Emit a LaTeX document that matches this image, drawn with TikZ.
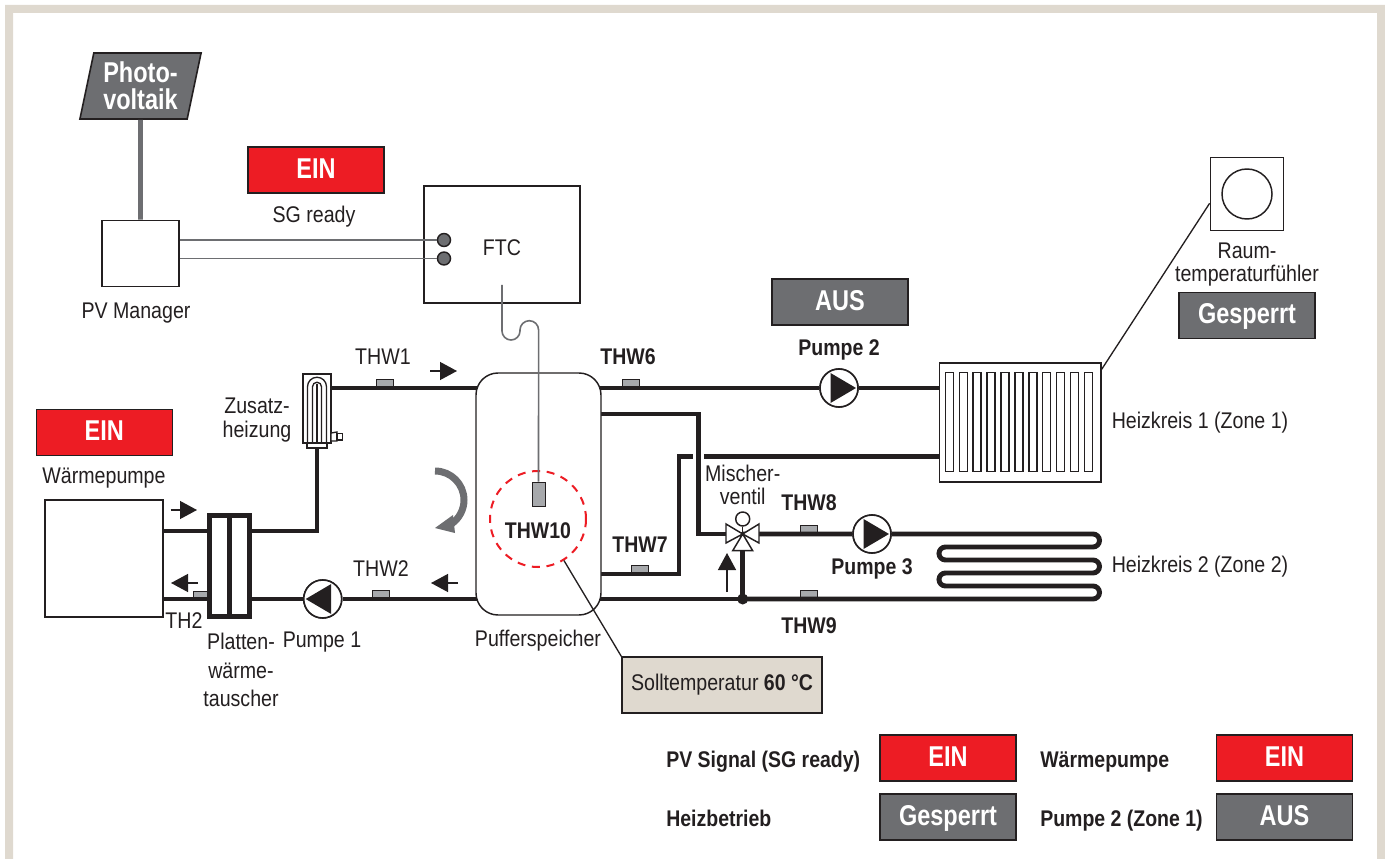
\documentclass[tikz,border=0pt]{standalone}
\usepackage{fontspec}
\setmainfont[FakeStretch=0.865]{Liberation Sans}
\newfontfamily\boldfam[FakeStretch=0.86]{Liberation Sans}
\newfontfamily\statusfam[FakeStretch=0.82]{Liberation Sans}
\usetikzlibrary{arrows.meta, calc, shapes.geometric}
\definecolor{ink}{HTML}{231F20}
\definecolor{midgray}{HTML}{6D6E71}
\definecolor{sensgray}{HTML}{A7A9AC}
\definecolor{alarmred}{HTML}{ED1C24}
\definecolor{sand}{HTML}{DFD9CF}
\newcommand{\lblfont}{\fontsize{17}{17.25}\selectfont}
\newcommand{\lblbold}{\boldfam\bfseries\fontsize{17}{17.25}\selectfont}
\newcommand{\statfont}{\statusfam\bfseries\fontsize{21.5}{24}\selectfont}

\begin{document}
\begin{tikzpicture}[
    x=0.75pt, y=-0.75pt,
    lbl/.style={font=\lblfont, text=ink, inner sep=0pt, align=center},
    lblb/.style={font=\lblbold, text=ink, inner sep=0pt, align=center},
    status/.style={draw=ink, line width=1.2pt, minimum width=102pt, minimum height=34.5pt,
                   inner sep=0pt, text=white, font=\statfont, text height=15.1pt, text depth=3pt},
    statuson/.style={status, fill=alarmred},
    statusoff/.style={status, fill=midgray},
    box/.style={draw=ink, line width=1.1pt, fill=white, inner sep=0pt},
    pipe/.style={draw=ink, line width=3.7pt},
    sgline/.style={draw=midgray, line width=1.3pt},
    thin/.style={draw=ink, line width=1pt},
    sensor/.style={draw=ink, fill=sensgray, line width=0.7pt, minimum width=12.75pt,
                   minimum height=6.75pt, inner sep=0pt},
    pump/.style={draw=ink, line width=1.2pt, fill=white, circle, minimum size=28.5pt, inner sep=0pt},
    flow/.style={draw=ink, line width=1pt, -{Triangle[length=12.75pt, width=13.5pt]}},
    fin/.style={draw=ink, line width=1.1pt},
    valve/.style={draw=ink, fill=white, line width=1.1pt},
]
    \useasboundingbox (0,0) rectangle (1385,859);

    % Page frame.
    \fill[sand] (5,859) -- (5,5) -- (1385,5) -- (1385,859) -- (1377,859) -- (1377,13) -- (13,13) -- (13,859) -- cycle;

    % Sensors on the pipes.
    \foreach \n/\xa/\ya in {thwa/384.5/383.5, thwb/380.5/595, thf/630.5/383.5, thg/640/570,
                            thh/809/530, thi/809/595} {
        \node[sensor] (\n) at (\xa,\ya) {};
    }
    \node[sensor, minimum width=10.5pt] (thtwo) at (200,595.5) {};

    % Upper row.
    \node[trapezium, trapezium left angle=77, trapezium right angle=103, trapezium stretches=true,
          draw=ink, line width=1.2pt, fill=midgray, minimum width=91.5pt, minimum height=49.5pt,
          inner sep=0pt, text=white, align=center, font=\statfont] (pvpanel) at (140.5,86)
        {Photo-\\[-3.75pt]voltaik};
    \node[box, minimum width=58pt, minimum height=49.5pt] (pvmanager) at (140.5,253.3) {};
    \node[lbl] (pvlabel) at (136,313) {PV Manager};
    \node[statuson] (sgstatus) at (316,170) {EIN};
    \node[lbl] (sglabel) at (314,217) {SG ready};
    \node[box, minimum width=117pt, minimum height=87.75pt] (ftc) at (502,244.3) {};
    \node[lbl] (ftclabel) at (502,248) {FTC};
    \node[draw=ink, fill=midgray, line width=1.1pt, circle, minimum size=9.75pt, inner sep=0pt] (sga) at (444,240) {};
    \node[draw=ink, fill=midgray, line width=1.1pt, circle, minimum size=9.75pt, inner sep=0pt] (sgb) at (444,258.5) {};
    \draw[draw=midgray, line width=3.4pt] (pvpanel.south) -- (pvmanager.north);
    \draw[sgline] (sga -| pvmanager.east) -- (sga);
    \draw[sgline] (sgb -| pvmanager.east) -- (sgb);

    % Heat pump and plate exchanger.
    \node[statuson] (wpstatus) at (104.3,432.3) {EIN};
    \node[lbl] (wplabel) at (104,478) {Wärmepumpe};
    \node[box, minimum width=88.5pt, minimum height=87.75pt] (wp) at (104,558.5) {};
    \node[draw=ink, line width=3.7pt, fill=white, minimum width=30pt, minimum height=75.75pt, inner sep=0pt]
        (plate) at (229.5,566) {};
    \draw[pipe] (plate.north) -- (plate.south);
    \node[lbl] (platelabel) at (241,670) {Platten-\\[4pt]wärme-\\[4pt]tauscher};
    \node[lbl] (thtwolabel) at (184,621) {TH2};

    % Extra heater.
    \node[box, minimum width=21pt, minimum height=51.75pt] (heater) at (317,408.5) {};
    \node[box, minimum width=15pt, minimum height=3.75pt] (heaterfoot) at (317,445.5) {};
    \draw[thin] ($(heater.south)+(-9.5,0)$) -- ++(0,-57) arc (180:360:9.5) -- ($(heater.south)+(9.5,0)$);
    \draw[thin] ($(heater.south)+(-4.5,0)$) -- ++(0,-57) arc (180:360:4.5) -- ($(heater.south)+(4.5,0)$);
    \draw[draw=ink, line width=1.8pt] (heater.south) -- ++(0,-60);
    \draw[thin, fill=white] (331,433) -- (337,432) -- (337,441) -- (331,441) -- cycle;
    \draw[thin, fill=white] (337,433.5) rectangle (342.5,440);
    \node[lbl] (heaterlabel) at (257,420) {Zusatz-\\[0.8pt]heizung};

    % Buffer tank.
    \coordinate (tankla) at (490,388);
    \coordinate (tanklb) at (490,599);
    \coordinate (tankra) at (590,388);
    \coordinate (tankrb) at (590,414);
    \coordinate (tankrc) at (590,574);
    \coordinate (tankrd) at (590,599);
    \coordinate (mixer) at (742.7,534);
    \coordinate (tee) at (742.7,599);
    \coordinate (wpflow) at (163,531);
    \coordinate (wpret) at (163,599);

    \node[pump] (pumpa) at (322.7,599) {};
    \node[pump] (pumpb) at (839,388) {};
    \node[pump] (pumpc) at (872,534) {};
    \node[box, minimum width=121pt, minimum height=89.25pt] (radiator) at (1020.3,422.5) {};

    % Pipes.
    \draw[pipe] (wpflow) -- (plate.west |- wpflow);
    \draw[pipe] (wpret) -- (plate.west |- wpret);
    \draw[pipe] (plate.east |- wpflow) -| (heaterfoot.south);
    \draw[pipe] (heater.east |- tankla) -- (tankla);
    \draw[pipe] (tanklb) -- (pumpa) -- (plate.east |- tanklb);
    \draw[pipe] (tankra) -- (pumpb) -- (radiator.west |- tankra);
    \draw[pipe] (tankrb) -- (698.7,414) -- (698.7,534) -- (mixer);
    \draw[pipe] (tankrc) -- (679,574) -- (679,456.7) -- (692.7,456.7);
    \draw[pipe] (704,456.7) -- (radiator.west |- 704,456.7);
    \draw[pipe] (mixer) -- (tee);
    \draw[pipe] (tankrd) -- (tee);
    \draw[pipe] (mixer) -- (pumpc) -- (1093,534) arc (-90:90:6.5) -- (945.5,547) arc (270:90:6.5)
        -- (1093,560) arc (-90:90:6.5) -- (945.5,573) arc (270:90:6.5)
        -- (1093,586) arc (-90:90:6.5) -- (tee);
    \fill[ink] (tee) circle (5.5);

    % Pumps drawn again above the pipes, with their triangles.
    \foreach \n/\d in {pumpa/-1, pumpb/1, pumpc/1} {
        \node[pump] at (\n) {};
        \fill[ink] ($(\n)+(\d*17,0)$) -- ($(\n)+(-\d*8.5,-15)$) -- ($(\n)+(-\d*8.5,15)$) -- cycle;
    }
    \node[box, rounded corners=16.5pt, minimum width=93.75pt, minimum height=181.5pt]
        (tank) at (538.5,494) {};
    \node[lbl] (tanklabel) at (538,640.7) {Pufferspeicher};

    % Radiator fins.
    \foreach \i in {0,...,10} {
        \draw[fin] ($(radiator.north west)+(6.5+\i*13.9,10)$) rectangle +(8,99);
    }

    % Mixing valve.
    \draw[valve] (mixer) -- (726,524) -- (726,543) -- cycle;
    \draw[valve] (mixer) -- (759,524) -- (759,543) -- cycle;
    \draw[valve] (mixer) -- (732.7,550.7) -- (752.7,550.7) -- cycle;
    \node[valve, circle, minimum size=10.5pt, inner sep=0pt] (mixknob) at (742.7,519) {};
    \draw[thin] (mixknob) -- (mixer);
    \node[lbl] (mixerlabel) at (742.7,485) {Mischer-\\ventil};

    % Tank sensor and target temperature.
    \node[sensor, minimum width=9.75pt, minimum height=18pt] (thj) at (538.5,494) {};
    \node[draw=alarmred, dash pattern=on 6pt off 5pt, line width=1.5pt, circle, minimum size=72pt, inner sep=0pt]
        (sollring) at (538,519) {};
    \node[draw=ink, fill=sand, line width=1.1pt, minimum width=150pt, minimum height=42pt, inner sep=0pt, font=\lblfont, text=ink]
        (solltemp) at (722,685) {Solltemperatur {\lblbold 60 °C}};
    \draw[thin] (sollring.-58) -- (solltemp.north west);
    \draw[draw=midgray, line width=1.2pt] (502,285) -- (502,331) arc (180:0:9) -- (520,330) arc (180:360:9.3) -- (thj.north);

    % Room sensor.
    \node[box, minimum width=55pt, minimum height=54.75pt] (raum) at (1247,194) {};
    \node[draw=ink, line width=1.1pt, circle, minimum size=37.5pt, inner sep=0pt] (raumdial) at (1247,194) {};
    \node[lbl] (raumlabel) at (1247,264.5) {Raum-\\temperaturfühler};
    \node[statusoff] (raumstatus) at (1247,315.5) {Gesperrt};
    \draw[thin] (raum.194) -- ($(radiator.north east)+(0,7)$);
    \node[statusoff] (pumpstatus) at (840,302) {AUS};

    % Pipe labels.
    \foreach \n/\xa/\ya/\t in {lthwa/383/357/THW1, lthwb/381/569/THW2, lpumpa/322/642/Pumpe 1,
                               lhka/1200/423/Heizkreis 1 (Zone 1), lhkb/1200/566.7/Heizkreis 2 (Zone 2)} {
        \node[lbl] (\n) at (\xa,\ya) {\t};
    }
    \foreach \n/\xa/\ya/\t in {lthf/628/357/THW6, lthg/640/544.7/THW7, lthh/809/502.7/THW8,
                               lthi/809/625.7/THW9, lthj/538/530.7/THW10,
                               lpumpb/839/350/Pumpe 2, lpumpc/872/569/Pumpe 3} {
        \node[lblb] (\n) at (\xa,\ya) {\t};
    }

    % Flow arrows.
    \foreach \n/\xa/\ya/\xb/\yb in {fa/170.7/510/197/510, fb/198/583/171/583, fc/430/371/457/371,
                                    fd/458/583/431/583, fe/727/592/727/553} {
        \coordinate (\n s) at (\xa,\ya);
        \coordinate (\n e) at (\xb,\yb);
        \draw[flow] (\n s) -- (\n e);
    }

    % Circulation mark.
    \draw[midgray, line width=5.25pt] (435,471) arc (270:415:29);
    \fill[midgray] (435,528) -- (455,533) -- (453,515) -- cycle;

    % Legend.
    \node[statuson] (lega) at (948,758) {EIN};
    \node[statuson] (legb) at (1284.5,758) {EIN};
    \node[statusoff] (legc) at (948,817) {Gesperrt};
    \node[statusoff] (legd) at (1284.5,817) {AUS};
    \node[lblb, anchor=base west] (legta) at (666,767) {PV Signal (SG ready)};
    \node[lblb, anchor=base west] (legtb) at (1040,767) {Wärmepumpe};
    \node[lblb, anchor=base west] (legtc) at (666,826) {Heizbetrieb};
    \node[lblb, anchor=base west] (legtd) at (1040,826) {Pumpe 2 (Zone 1)};
\end{tikzpicture}
\end{document}
